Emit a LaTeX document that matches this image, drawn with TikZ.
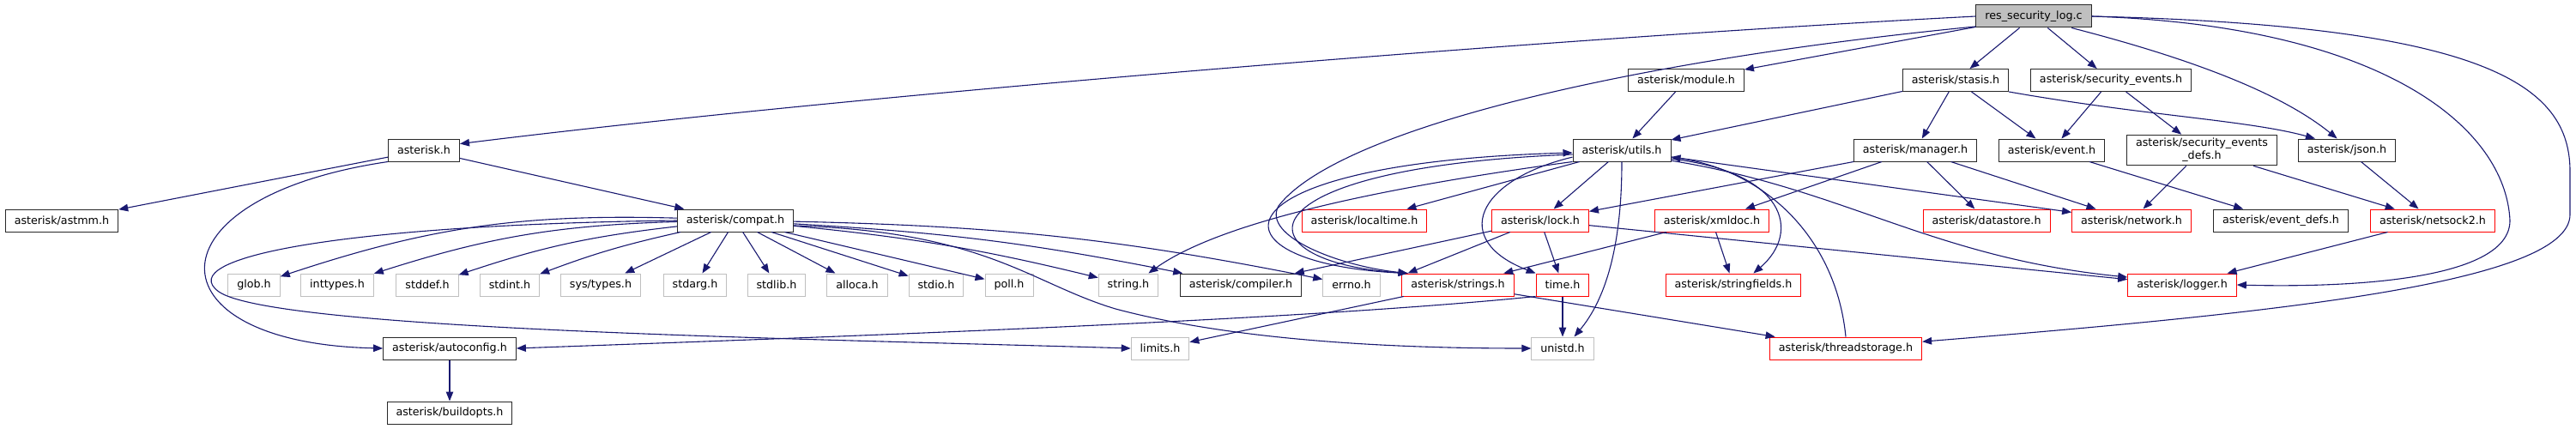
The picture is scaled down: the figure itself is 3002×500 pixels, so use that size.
\documentclass[tikz,border=0pt]{standalone}
\usepackage{fontspec}
\setmainfont{DejaVu Sans}
\usetikzlibrary{arrows.meta}
\definecolor{incblue}{RGB}{25,25,112}
\definecolor{mainfill}{RGB}{191,191,191}
\definecolor{sysgray}{RGB}{191,191,191}
\definecolor{truncred}{RGB}{255,0,0}
\definecolor{fileblack}{RGB}{40,40,40}

\begin{document}
\begin{tikzpicture}[x=1pt, y=-1pt,
    file/.style={draw=fileblack, fill=white, line width=1pt, font=\fontsize{12.7}{15}\selectfont, inner xsep=10.5pt, inner ysep=2pt, minimum height=26pt},
    mainfile/.style={file, fill=mainfill},
    redfile/.style={file, draw=truncred},
    sysfile/.style={file, draw=sysgray},
    inc/.style={draw=incblue, line width=1.1pt, -{Triangle[length=11pt, width=8.5pt]}}]
        \useasboundingbox (0,0) rectangle (3002,500);

        % Top file
        \node[mainfile] (res) at (2370,19) {res\_security\_log.c};

        % Second row
        \node[file] (module) at (1965,93.5) {asterisk/module.h};
        \node[file] (stasis) at (2279,93.5) {asterisk/stasis.h};
        \node[file] (secev)  at (2460,93.5) {asterisk/security\_events.h};

        % Third row
        \node[file] (asterisk) at (494,175)  {asterisk.h};
        \node[file] (utils)    at (1890,175) {asterisk/utils.h};
        \node[file] (manager)  at (2232,175) {asterisk/manager.h};
        \node[file] (event)    at (2391,175) {asterisk/event.h};
        \node[file, align=center, inner ysep=4pt] (secdefs) at (2566,175) {asterisk/security\_events\\\_defs.h};
        \node[file] (json)     at (2735,175) {asterisk/json.h};

        % Fourth row
        \node[file]    (astmm)     at (72,257)   {asterisk/astmm.h};
        \node[file]    (compat)    at (857,257)  {asterisk/compat.h};
        \node[redfile] (localtime) at (1590,257) {asterisk/localtime.h};
        \node[redfile] (lock)      at (1795,257) {asterisk/lock.h};
        \node[redfile] (xmldoc)    at (1995,257) {asterisk/xmldoc.h};
        \node[redfile] (datastore) at (2315,257) {asterisk/datastore.h};
        \node[redfile] (network)   at (2484,257) {asterisk/network.h};
        \node[file]    (eventdefs) at (2658,257) {asterisk/event\_defs.h};
        \node[redfile] (netsock)   at (2835,257) {asterisk/netsock2.h};

        % Fifth row
        \node[sysfile] (glob)         at (296,332)  {glob.h};
        \node[sysfile] (inttypes)     at (393,332)  {inttypes.h};
        \node[sysfile] (stddef)       at (498,332)  {stddef.h};
        \node[sysfile] (stdint)       at (594,332)  {stdint.h};
        \node[sysfile] (systypes)     at (700,332)  {sys/types.h};
        \node[sysfile] (stdarg)       at (810,332)  {stdarg.h};
        \node[sysfile] (stdlib)       at (905,332)  {stdlib.h};
        \node[sysfile] (alloca)       at (999,332)  {alloca.h};
        \node[sysfile] (stdio)        at (1091,332) {stdio.h};
        \node[sysfile] (poll)         at (1176,332) {poll.h};
        \node[sysfile] (stringh)      at (1315,332) {string.h};
        \node[file]    (compiler)     at (1446,332) {asterisk/compiler.h};
        \node[sysfile] (errno)        at (1575,332) {errno.h};
        \node[redfile] (strings)      at (1699,332) {asterisk/strings.h};
        \node[redfile] (timeh)        at (1821,332) {time.h};
        \node[redfile] (stringfields) at (2020,332) {asterisk/stringfields.h};
        \node[redfile] (logger)       at (2543,332) {asterisk/logger.h};

        % Sixth and seventh rows
        \node[file]    (autoconfig)    at (524,406)  {asterisk/autoconfig.h};
        \node[sysfile] (limits)        at (1352,406) {limits.h};
        \node[sysfile] (unistd)        at (1821,406) {unistd.h};
        \node[redfile] (threadstorage) at (2151,406) {asterisk/threadstorage.h};
        \node[file]    (buildopts)     at (524,481)  {asterisk/buildopts.h};

        % Includes of res_security_log.c
        \draw[inc] (res.west) .. controls (1800,45) and (1000,110) .. (asterisk.10);
        \draw[inc] (res.190) .. controls (1900,70) and (1560,150) .. (1490,240) .. controls (1470,275) and (1560,310) .. (strings.167);
        \draw[inc] (res) -- (module);
        \draw[inc] (res) -- (stasis);
        \draw[inc] (res) -- (secev);
        \draw[inc] (res.-17) .. controls (2560,70) and (2660,110) .. (json.130);
        \draw[inc] (res.east) .. controls (2780,30) and (2920,150) .. (2925,257) .. controls (2925,330) and (2720,335) .. (logger.east);
        \draw[inc] (res.east) .. controls (2900,30) and (2995,100) .. (2995,200) -- (2995,250) .. controls (2995,330) and (2650,365) .. (threadstorage.5);

        % asterisk.h and compat.h
        \draw[inc] (asterisk) -- (astmm);
        \draw[inc] (asterisk) -- (compat);
        \draw[inc] (asterisk.south west) .. controls (170,230) and (170,400) .. (autoconfig.west);
        \draw[inc] (compat) to[bend right=10] (glob);
        \draw[inc] (compat) to[bend right=8] (inttypes);
        \draw[inc] (compat) to[bend right=6] (stddef);
        \draw[inc] (compat) to[bend right=4] (stdint);
        \draw[inc] (compat) -- (systypes);
        \draw[inc] (compat) -- (stdarg);
        \draw[inc] (compat) -- (stdlib);
        \draw[inc] (compat) -- (alloca);
        \draw[inc] (compat) -- (stdio);
        \draw[inc] (compat) -- (poll);
        \draw[inc] (compat) to[bend left=4] (stringh);
        \draw[inc] (compat) to[bend left=4] (compiler);
        \draw[inc] (compat) to[bend left=5] (errno);
        \draw[inc] (compat.west) .. controls (400,262) and (200,300) .. (255,340) .. controls (320,385) and (950,395) .. (limits.west);
        \draw[inc] (compat.-5) .. controls (1150,270) and (1200,330) .. (1300,360) .. controls (1450,400) and (1650,406) .. (unistd.west);
        \draw[inc] (autoconfig) -- (buildopts);

        % utils.h
        \draw[inc] (module) -- (utils);
        \draw[inc] (stasis) -- (utils);
        \draw[inc] (utils) -- (localtime);
        \draw[inc] (utils) -- (lock);
        \draw[inc] (utils.south west) .. controls (1600,220) and (1420,260) .. (stringh.30);
        \draw[inc] (utils.188) .. controls (1720,210) and (1690,280) .. (timeh.north west);
        \draw[inc] (utils.south) .. controls (1890,290) and (1870,350) .. (unistd.45);
        \draw[inc] (utils.185) .. controls (1440,195) and (1440,305) .. (strings.167);
        \draw[inc] (strings.167) .. controls (1400,310) and (1400,190) .. (utils.183);
        \draw[inc] (utils.-10) .. controls (2080,200) and (2100,270) .. (stringfields.30);
        \draw[inc] (utils) -- (network);
        \draw[inc] (utils.-12) .. controls (2150,220) and (2250,300) .. (logger.172);
        \draw[inc] (threadstorage.north) .. controls (2140,280) and (2060,200) .. (utils.-8);

        % stasis.h, manager.h and events
        \draw[inc] (stasis) -- (manager);
        \draw[inc] (stasis) -- (event);
        \draw[inc] (stasis.south east) .. controls (2500,135) and (2620,140) .. (json.160);
        \draw[inc] (manager) -- (lock);
        \draw[inc] (manager) -- (xmldoc);
        \draw[inc] (manager) -- (datastore);
        \draw[inc] (manager) -- (network);
        \draw[inc] (secev) -- (event);
        \draw[inc] (secev) -- (secdefs);
        \draw[inc] (event) -- (eventdefs);
        \draw[inc] (secdefs) -- (network);
        \draw[inc] (secdefs) -- (netsock);
        \draw[inc] (json) -- (netsock);
        \draw[inc] (netsock) -- (logger);

        % lock.h, xmldoc.h, strings.h, time.h
        \draw[inc] (lock) -- (compiler);
        \draw[inc] (lock.201) -- (strings.167);
        \draw[inc] (lock) -- (timeh);
        \draw[inc] (lock) -- (logger);
        \draw[inc] (xmldoc) -- (strings);
        \draw[inc] (xmldoc) -- (stringfields);
        \draw[inc] (strings) -- (limits);
        \draw[inc] (strings) -- (threadstorage);
        \draw[inc] (timeh) -- (unistd);
        \draw[inc] (timeh.south west) .. controls (1500,375) and (900,395) .. (autoconfig.east);
\end{tikzpicture}
\end{document}
